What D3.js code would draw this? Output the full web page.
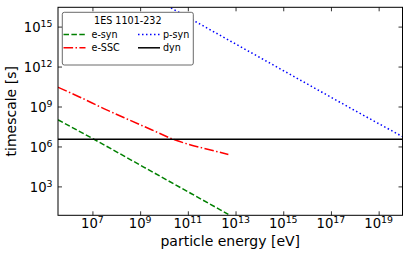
<!DOCTYPE html>
<html>
<head>
<meta charset="utf-8">
<script src="https://cdn.jsdelivr.net/npm/d3@7"></script>
<style>
  body { margin: 0; background: #fff; }
  svg { display: block; font-family: "DejaVu Sans", sans-serif; }
</style>
</head>
<body>
<svg id="chart" width="411" height="257"></svg>
<script>
// values (energy in eV, timescale in s)
var energyESyn = [3.6e5, 1e7, 1e9, 1e11, 5e12];
var timeESyn   = [1e8, 4e6, 4e4, 4e2, 8];

var energyESSC = [3.6e5, 3e6, 3e7, 3e8, 3e9, 2.4e10, 1e11, 1e12, 5e12];
var timeESSC   = [2.8e10, 5e9, 7e8, 1.1e8, 1.8e7, 3.5e6, 1.5e6, 5.2e5, 2.5e5];

var energyPSyn = [1e10, 1e12, 1e14, 1e16, 1e18, 1e20];
var timePSyn   = [5e16, 5e14, 5e12, 5e10, 5e8, 5.5e6];

var energyDyn = [3.6e5, 1e20];
var timeDyn   = [3.5e6, 3.5e6];

var xTickExp = [7, 9, 11, 13, 15, 17, 19];
var yTickExp = [3, 6, 9, 12, 15];

var legendTitle = "1ES 1101-232";

var frame = {left: 58, right: 402.5, top: 7.3, bottom: 215.3};

var svg = d3.select("#chart");

var x = d3.scaleLog().domain([3.6e5, 1e20]).range([frame.left, frame.right]);
var y = d3.scaleLog().domain([Math.pow(10, 0.83), Math.pow(10, 16.45)]).range([frame.bottom, frame.top]);

svg.append("clipPath").attr("id", "clip")
  .append("rect")
  .attr("x", frame.left).attr("y", frame.top)
  .attr("width", frame.right - frame.left).attr("height", frame.bottom - frame.top);

var series = [
  {name: "e-syn", e: energyESyn, t: timeESyn, color: "#008000", dash: "5.5,2.4"},
  {name: "e-SSC", e: energyESSC, t: timeESSC, color: "#ff0000", dash: "9.6,2.4,1.5,2.4"},
  {name: "p-syn", e: energyPSyn, t: timePSyn, color: "#0000ff", dash: "1.5,2.5"},
  {name: "dyn", e: energyDyn, t: timeDyn, color: "#000000", dash: null}
];

var line = d3.line()
  .x(function (d) { return x(d[0]); })
  .y(function (d) { return y(d[1]); })
  .curve(d3.curveMonotoneX);

var plot = svg.append("g").attr("clip-path", "url(#clip)");
series.forEach(function (s) {
  plot.append("path")
    .datum(d3.zip(s.e, s.t))
    .attr("d", line)
    .attr("fill", "none")
    .attr("stroke", s.color)
    .attr("stroke-width", 1.5)
    .attr("stroke-dasharray", s.dash);
});

// axes with inward ticks on all four sides
var xTicks = xTickExp.map(function (p) { return Math.pow(10, p); });
var yTicks = yTickExp.map(function (p) { return Math.pow(10, p); });

svg.append("g").attr("transform", "translate(0," + frame.bottom + ")")
  .call(d3.axisBottom(x).tickValues(xTicks).tickSize(-4).tickFormat(""));
svg.append("g").attr("transform", "translate(0," + frame.top + ")")
  .call(d3.axisTop(x).tickValues(xTicks).tickSize(-4).tickFormat(""));
svg.append("g").attr("transform", "translate(" + frame.left + ",0)")
  .call(d3.axisLeft(y).tickValues(yTicks).tickSize(-4).tickFormat(""));
svg.append("g").attr("transform", "translate(" + frame.right + ",0)")
  .call(d3.axisRight(y).tickValues(yTicks).tickSize(-4).tickFormat(""));

svg.selectAll(".domain").remove();
svg.selectAll(".tick line").attr("stroke", "#000").attr("stroke-width", 0.8);

svg.append("rect")
  .attr("x", frame.left).attr("y", frame.top)
  .attr("width", frame.right - frame.left).attr("height", frame.bottom - frame.top)
  .attr("fill", "none").attr("stroke", "#000").attr("stroke-width", 1);

function powLabel(sel, p) {
  sel.append("tspan").text("10");
  sel.append("tspan").attr("dy", -4.8).attr("font-size", 9.4).text(p);
}

xTickExp.forEach(function (p) {
  svg.append("text")
    .attr("x", x(Math.pow(10, p))).attr("y", 228)
    .attr("text-anchor", "middle").attr("font-size", 13.2)
    .call(powLabel, p);
});

yTickExp.forEach(function (p) {
  svg.append("text")
    .attr("x", 52.5).attr("y", y(Math.pow(10, p)) + 5.5)
    .attr("text-anchor", "end").attr("font-size", 13.2)
    .call(powLabel, p);
});

svg.append("text")
  .attr("x", (frame.left + frame.right) / 2).attr("y", 245.5)
  .attr("text-anchor", "middle").attr("font-size", 14)
  .text("particle energy [eV]");

svg.append("text")
  .attr("transform", "translate(16," + ((frame.top + frame.bottom) / 2) + ") rotate(-90)")
  .attr("text-anchor", "middle").attr("font-size", 14)
  .text("timescale [s]");

// legend
var legend = svg.append("g");
legend.append("rect")
  .attr("x", 62.3).attr("y", 12.3).attr("width", 131).attr("height", 52.7)
  .attr("rx", 2).attr("fill", "#fff").attr("stroke", "#444").attr("stroke-width", 0.8);
legend.append("text")
  .attr("x", 127.8).attr("y", 24).attr("text-anchor", "middle").attr("font-size", 9.6)
  .text(legendTitle);

var legendPos = [
  {hx: 63.5, tx: 91.5, cy: 34.5},
  {hx: 63.5, tx: 91.5, cy: 47.8},
  {hx: 138, tx: 163, cy: 34.5},
  {hx: 138, tx: 163, cy: 47.8}
];
series.forEach(function (s, i) {
  var p = legendPos[i];
  legend.append("line")
    .attr("x1", p.hx).attr("x2", p.hx + 22).attr("y1", p.cy).attr("y2", p.cy)
    .attr("stroke", s.color).attr("stroke-width", 1.5).attr("stroke-dasharray", s.dash);
  legend.append("text")
    .attr("x", p.tx).attr("y", p.cy + 3.5).attr("font-size", 9.6)
    .text(s.name);
});
</script>
</body>
</html>
